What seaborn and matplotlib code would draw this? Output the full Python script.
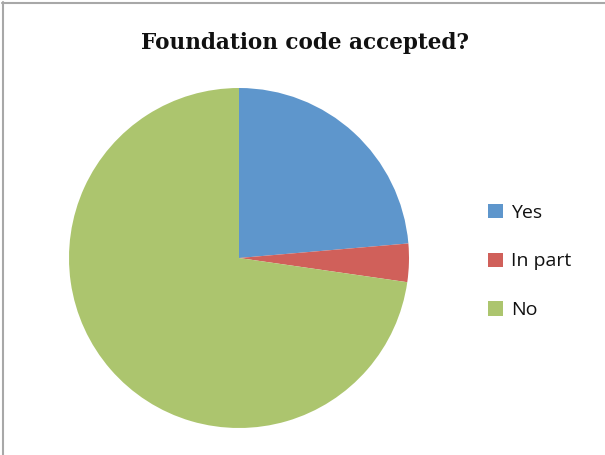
import matplotlib
matplotlib.use("Agg")
import matplotlib.pyplot as plt
from matplotlib.lines import Line2D
from matplotlib.patches import Patch
import seaborn as sns

categories = ["Yes", "In part", "No"]
counts = [13, 2, 40]
colors = ["#5E96CC", "#D0605A", "#ACC56E"]

sns.set_theme(style="white")
palette = sns.color_palette(colors)

W, H = 605, 455
fig = plt.figure(figsize=(W / 100, H / 100), dpi=100)
fig.patch.set_facecolor("white")

# pie axes placed in pixel units (center ~ (239, 258), radius ~170)
cx, cy, r = 239, 258, 170
ax = fig.add_axes([(cx - r) / W, (H - cy - r) / H, 2 * r / W, 2 * r / H])
ax.pie(counts, colors=palette, startangle=90, counterclock=False,
       wedgeprops=dict(linewidth=0))
ax.set_aspect("equal")
ax.set_xlim(-1, 1)
ax.set_ylim(-1, 1)
ax.axis("off")

fig.text(305 / W, 1 - 43 / H, "Foundation code accepted?", ha="center", va="center",
         fontsize=15.5, fontweight="bold", family="DejaVu Serif", color="#111111")

handles = [Patch(facecolor=c, edgecolor="none") for c in palette]
fig.legend(handles, categories, loc="center left", bbox_to_anchor=(488 / W, 1 - 261.5 / H),
           frameon=False, handlelength=0.75, handleheight=0.75,
           handletextpad=0.45, labelspacing=1.58, borderpad=0, borderaxespad=0,
           labelcolor="#111111", prop={"family": "Open Sans", "size": 14})

# chart-area frame: top and left edges
fig.add_artist(Line2D([2 / W, 1], [1 - 2.5 / H, 1 - 2.5 / H], transform=fig.transFigure,
                      color="#A8A8A8", linewidth=1.5))
fig.add_artist(Line2D([2.5 / W, 2.5 / W], [0, 1 - 2 / H], transform=fig.transFigure,
                      color="#A8A8A8", linewidth=1.5))

fig.savefig("out.png", dpi=100)
